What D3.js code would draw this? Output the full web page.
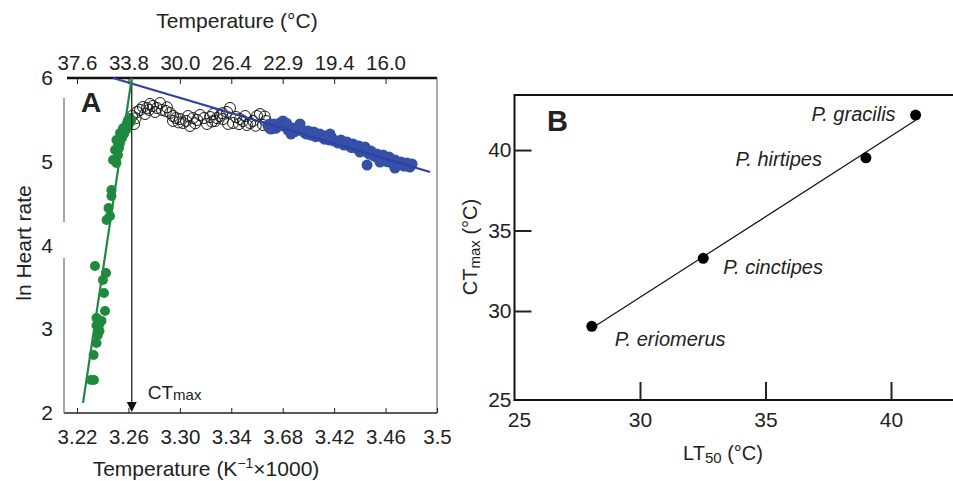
<!DOCTYPE html>
<html>
<head>
<meta charset="utf-8">
<script src="https://cdnjs.cloudflare.com/ajax/libs/d3/7.8.5/d3.min.js"></script>
<style>
  body { margin: 0; background: #fff; }
  svg { display: block; font-family: 'Liberation Sans', Arial, sans-serif; }
</style>
</head>
<body>
<div id="chart"></div>
<script>
// Panel A - ln heart rate against inverse temperature (K^-1 x 1000)
const bottomTicks = [3.22, 3.26, 3.30, 3.34, 3.38, 3.42, 3.46, 3.50];
const bottomTickLabels = ['3.22', '3.26', '3.30', '3.34', '3.68', '3.42', '3.46', '3.5'];
const topTickLabels = ['37.6', '33.8', '30.0', '26.4', '22.9', '19.4', '16.0'];
const heartTicks = [2, 3, 4, 5, 6];

// green = above CTmax, open = plateau, blue = below break point
const greenPoints = [
  [3.2309, 2.394], [3.2332, 2.394], [3.2329, 2.693], [3.2352, 2.836], [3.2363, 2.931],
  [3.2352, 3.045], [3.2371, 3.051], [3.2352, 3.134], [3.2418, 3.218], [3.2410, 3.433],
  [3.2402, 3.588], [3.2426, 3.672], [3.2340, 3.755], [3.2430, 4.304], [3.2457, 4.352],
  [3.2445, 4.448], [3.2468, 4.591], [3.2468, 4.663], [3.2507, 4.985], [3.2480, 5.021],
  [3.2496, 5.140], [3.2507, 5.260], [3.2535, 5.224], [3.2535, 5.343], [3.2574, 5.415],
  [3.2597, 5.499], [3.2519, 5.081], [3.2550, 5.284], [3.2581, 5.379], [3.2612, 5.522],
  [3.2589, 5.463], [3.2566, 5.331], [3.2527, 5.164], [3.2558, 5.400], [3.2600, 5.440],
  [3.2620, 5.480], [3.2545, 5.300], [3.2520, 5.200], [3.2390, 3.100], [3.2375, 2.980]
];

const openPoints = [
  [3.2628, 5.546], [3.2644, 5.451], [3.2667, 5.594], [3.2690, 5.618], [3.2713, 5.654],
  [3.2745, 5.642], [3.2768, 5.690], [3.2791, 5.666], [3.2822, 5.642], [3.2846, 5.701],
  [3.2861, 5.618], [3.2892, 5.606], [3.2924, 5.582], [3.2947, 5.546], [3.2970, 5.522],
  [3.3001, 5.510], [3.3025, 5.463], [3.3048, 5.487], [3.3079, 5.427], [3.3102, 5.522],
  [3.3134, 5.499], [3.3157, 5.558], [3.3188, 5.522], [3.3211, 5.451], [3.3235, 5.534],
  [3.3258, 5.570], [3.3289, 5.522], [3.3312, 5.546], [3.3336, 5.510], [3.3367, 5.594],
  [3.3390, 5.642], [3.3414, 5.463], [3.3437, 5.534], [3.3468, 5.510], [3.3491, 5.487],
  [3.3522, 5.439], [3.3546, 5.463], [3.3569, 5.487], [3.3600, 5.546], [3.3623, 5.570],
  [3.3647, 5.439], [3.3670, 5.487], [3.3701, 5.403], [3.2947, 5.487], [3.2807, 5.594],
  [3.2729, 5.570], [3.3064, 5.546], [3.3274, 5.487], [3.3507, 5.546], [3.3375, 5.451],
  [3.2656, 5.520], [3.2760, 5.620], [3.2900, 5.650], [3.2990, 5.470], [3.3120, 5.460],
  [3.3250, 5.480], [3.3330, 5.580], [3.3460, 5.450], [3.3590, 5.430], [3.3660, 5.540]
];

const bluePoints = [
  [3.3686, 5.427], [3.3709, 5.391], [3.3732, 5.451], [3.3756, 5.415], [3.3779, 5.463],
  [3.3802, 5.487], [3.3818, 5.427], [3.3841, 5.379], [3.3865, 5.331], [3.3880, 5.403],
  [3.3903, 5.367], [3.3927, 5.415], [3.3950, 5.379], [3.3973, 5.343], [3.3997, 5.367],
  [3.4020, 5.319], [3.4043, 5.355], [3.4067, 5.307], [3.4090, 5.331], [3.4113, 5.284],
  [3.4137, 5.307], [3.4160, 5.260], [3.4183, 5.284], [3.4207, 5.248], [3.4230, 5.224],
  [3.4253, 5.260], [3.4277, 5.200], [3.4300, 5.236], [3.4323, 5.188], [3.4347, 5.212],
  [3.4370, 5.164], [3.4393, 5.188], [3.4417, 5.140], [3.4440, 5.176], [3.4456, 4.961],
  [3.4463, 5.104], [3.4487, 5.128], [3.4510, 5.069], [3.4533, 5.093], [3.4557, 5.045],
  [3.4580, 5.081], [3.4603, 5.021], [3.4627, 5.057], [3.4650, 4.985], [3.4673, 5.021],
  [3.4697, 4.961], [3.4720, 4.997], [3.4743, 4.949], [3.4767, 4.985], [3.4790, 4.937],
  [3.4806, 4.973], [3.4673, 4.925], [3.4557, 4.997], [3.4401, 5.116], [3.4168, 5.331],
  [3.3935, 5.451], [3.3698, 5.450], [3.3744, 5.400], [3.3790, 5.430], [3.3830, 5.460],
  [3.3853, 5.400], [3.3892, 5.360], [3.3915, 5.390], [3.3962, 5.360], [3.3985, 5.330],
  [3.4032, 5.340], [3.4055, 5.300], [3.4102, 5.310], [3.4125, 5.270], [3.4172, 5.290],
  [3.4195, 5.250], [3.4242, 5.240], [3.4265, 5.220], [3.4312, 5.200], [3.4335, 5.170],
  [3.4382, 5.170], [3.4405, 5.150], [3.4452, 5.140], [3.4475, 5.090], [3.4522, 5.060],
  [3.4545, 5.070], [3.4592, 5.040], [3.4615, 5.000], [3.4662, 5.000], [3.4685, 4.980],
  [3.4732, 4.970], [3.4755, 4.950], [3.4780, 4.960]
];

const greenFit = [[3.2247, 2.12], [3.2626, 6.0]];
const blueFit = [[3.2480, 6.0], [3.4946, 4.878]];
const ctmaxA = 3.2626;

// Panel B - CTmax against LT50 per species
const species = ['P. eriomerus', 'P. cinctipes', 'P. hirtipes', 'P. gracilis'];
const lt50 = [28.08, 32.52, 39.0, 40.98];
const ctmax = [29.05, 33.27, 39.52, 42.17];
const ltTicks = [30, 35, 40];
const ctTicks = [30, 35, 40];

(function() {
  'use strict';

  const width = 953;
  const height = 481;

  const svg = d3.select('#chart')
    .append('svg')
    .attr('width', width)
    .attr('height', height)
    .style('background', '#fff');

  // ---------- panel A ----------
  const xA = d3.scaleLinear().domain([3.2099, 3.50]).range([64, 437]);
  const yA = d3.scaleLinear().domain([2, 6]).range([413, 78]);

  const gA = svg.append('g').attr('class', 'panel-a');

  // frame
  gA.append('line')
    .attr('x1', 67).attr('x2', xA(3.5))
    .attr('y1', yA(6)).attr('y2', yA(6))
    .attr('stroke', '#111').attr('stroke-width', 2.5);
  gA.append('line')
    .attr('x1', xA(3.5)).attr('x2', xA(3.5))
    .attr('y1', yA(6)).attr('y2', yA(2))
    .attr('stroke', '#555').attr('stroke-width', 1);
  gA.append('line')
    .attr('x1', xA.range()[0]).attr('x2', xA(3.5))
    .attr('y1', yA(2)).attr('y2', yA(2))
    .attr('stroke', '#222').attr('stroke-width', 1.5);

  // left axis is drawn in grey with a break around the "4"
  [[5.76, 4.28], [3.85, 2]].forEach(function(seg) {
    gA.append('line')
      .attr('x1', xA.range()[0]).attr('x2', xA.range()[0])
      .attr('y1', yA(seg[0])).attr('y2', yA(seg[1]))
      .attr('stroke', '#888').attr('stroke-width', 1.5);
  });

  const bottomAxis = d3.axisBottom(xA)
    .tickValues(bottomTicks)
    .tickFormat(function(d, i) { return bottomTickLabels[i]; })
    .tickSizeInner(-5)
    .tickSizeOuter(0)
    .tickPadding(16);

  const topAxis = d3.axisTop(xA)
    .tickValues(bottomTicks.slice(0, 7))
    .tickFormat(function(d, i) { return topTickLabels[i]; })
    .tickSizeInner(-6)
    .tickSizeOuter(0)
    .tickPadding(8);

  const leftAxis = d3.axisLeft(yA)
    .tickValues(heartTicks)
    .tickFormat(d3.format('d'))
    .tickSize(0)
    .tickPadding(11);

  function styleAxis(g, size) {
    g.attr('font-family', null).attr('font-size', size);
    g.select('.domain').remove();
    g.selectAll('.tick line').attr('stroke', '#222');
    g.selectAll('.tick text').attr('fill', '#222');
  }

  gA.append('g')
    .attr('transform', 'translate(0,' + yA(2) + ')')
    .call(bottomAxis)
    .call(styleAxis, 20.5);

  gA.append('g')
    .attr('transform', 'translate(0,' + yA(6) + ')')
    .call(topAxis)
    .call(styleAxis, 20.5);

  gA.append('g')
    .attr('transform', 'translate(' + xA.range()[0] + ',0)')
    .call(leftAxis)
    .call(styleAxis, 21);

  // small tick at 6 on the top-left corner
  gA.append('line')
    .attr('x1', 68).attr('x2', 75)
    .attr('y1', yA(6)).attr('y2', yA(6))
    .attr('stroke', '#111').attr('stroke-width', 1.5);

  // data
  gA.append('g')
    .selectAll('circle')
    .data(openPoints)
    .enter()
    .append('circle')
    .attr('cx', function(d) { return xA(d[0]); })
    .attr('cy', function(d) { return yA(d[1]); })
    .attr('r', 5.5)
    .attr('fill', 'none')
    .attr('stroke', '#1a1a1a')
    .attr('stroke-width', 1);

  gA.append('g')
    .selectAll('circle')
    .data(bluePoints)
    .enter()
    .append('circle')
    .attr('cx', function(d) { return xA(d[0]); })
    .attr('cy', function(d) { return yA(d[1]); })
    .attr('r', 5.5)
    .attr('fill', '#3450a8');

  gA.append('g')
    .selectAll('circle')
    .data(greenPoints)
    .enter()
    .append('circle')
    .attr('cx', function(d) { return xA(d[0]); })
    .attr('cy', function(d) { return yA(d[1]); })
    .attr('r', 5)
    .attr('fill', '#1f8a3d');

  // CTmax arrow
  gA.append('line')
    .attr('x1', xA(ctmaxA)).attr('x2', xA(ctmaxA))
    .attr('y1', yA(6)).attr('y2', yA(2) - 8)
    .attr('stroke', '#111').attr('stroke-width', 1.2);
  gA.append('path')
    .attr('d', 'M' + (xA(ctmaxA) - 5) + ',' + (yA(2) - 11) +
      'L' + (xA(ctmaxA) + 5) + ',' + (yA(2) - 11) +
      'L' + xA(ctmaxA) + ',' + (yA(2) - 1) + 'Z')
    .attr('fill', '#111');

  const fitLine = d3.line()
    .x(function(d) { return xA(d[0]); })
    .y(function(d) { return yA(d[1]); });

  gA.append('path')
    .datum(blueFit)
    .attr('d', fitLine)
    .attr('fill', 'none')
    .attr('stroke', '#2f42a3')
    .attr('stroke-width', 2.2);

  gA.append('path')
    .datum(greenFit)
    .attr('d', fitLine)
    .attr('fill', 'none')
    .attr('stroke', '#1f8a3d')
    .attr('stroke-width', 2.2);

  // labels
  const ctLabel = gA.append('text')
    .attr('x', xA(ctmaxA) + 16)
    .attr('y', 399)
    .attr('font-size', 19)
    .attr('fill', '#222');
  ctLabel.append('tspan').text('CT');
  ctLabel.append('tspan').attr('font-size', 15).attr('dy', 1).text('max');

  gA.append('text')
    .attr('x', 81).attr('y', 112)
    .attr('font-size', 28)
    .attr('font-weight', 'bold')
    .attr('fill', '#222')
    .text('A');

  gA.append('text')
    .attr('x', 237).attr('y', 28)
    .attr('text-anchor', 'middle')
    .attr('font-size', 21)
    .attr('fill', '#222')
    .text('Temperature (°C)');

  gA.append('text')
    .attr('transform', 'translate(31,243) rotate(-90)')
    .attr('text-anchor', 'middle')
    .attr('font-size', 21)
    .attr('fill', '#222')
    .text('ln Heart rate');

  const xTitleA = gA.append('text')
    .attr('x', 206).attr('y', 476)
    .attr('text-anchor', 'middle')
    .attr('font-size', 21)
    .attr('fill', '#222');
  xTitleA.append('tspan').text('Temperature (K');
  xTitleA.append('tspan').attr('font-size', 14).attr('dy', -8).text('−1');
  xTitleA.append('tspan').attr('dy', 8).text('×1000)');

  // ---------- panel B ----------
  const xB = d3.scaleLinear().domain([25, 42.47]).range([514.5, 953]);
  const yB = d3.scaleLinear().domain([24.47, 43.42]).range([400, 95]);

  const gB = svg.append('g').attr('class', 'panel-b');

  gB.append('path')
    .attr('d', 'M' + width + ',' + yB.range()[1] +
      'H' + xB.range()[0] + 'V' + yB.range()[0] + 'H' + width)
    .attr('fill', 'none')
    .attr('stroke', '#111')
    .attr('stroke-width', 2);

  gB.append('g')
    .attr('transform', 'translate(0,' + yB.range()[0] + ')')
    .call(d3.axisBottom(xB)
      .tickValues(ltTicks)
      .tickFormat(d3.format('d'))
      .tickSizeInner(-18)
      .tickSizeOuter(0)
      .tickPadding(12))
    .call(styleAxis, 21)
    .selectAll('.tick line').attr('stroke-width', 2);

  gB.append('g')
    .attr('transform', 'translate(' + xB.range()[0] + ',0)')
    .call(d3.axisLeft(yB)
      .tickValues(ctTicks)
      .tickFormat(d3.format('d'))
      .tickSizeInner(-17)
      .tickSizeOuter(0)
      .tickPadding(3))
    .call(styleAxis, 21)
    .selectAll('.tick line').attr('stroke-width', 2);

  // "25" corner labels
  gB.append('text')
    .attr('x', xB.range()[0] - 3).attr('y', yB.range()[0])
    .attr('dy', '0.32em')
    .attr('text-anchor', 'end')
    .attr('font-size', 21)
    .attr('fill', '#222')
    .text('25');
  gB.append('text')
    .attr('x', xB(25) + 5).attr('y', yB.range()[0] + 27)
    .attr('text-anchor', 'middle')
    .attr('font-size', 21)
    .attr('fill', '#222')
    .text('25');

  // regression line through the species
  const pts = species.map(function(s, i) { return [lt50[i], ctmax[i]]; });
  const mx = d3.mean(lt50);
  const my = d3.mean(ctmax);
  const slope = d3.sum(pts, function(p) { return (p[0] - mx) * (p[1] - my); }) /
    d3.sum(pts, function(p) { return (p[0] - mx) * (p[0] - mx); });
  const icpt = my - slope * mx;
  const xr = d3.extent(lt50);

  gB.append('line')
    .attr('x1', xB(xr[0])).attr('y1', yB(icpt + slope * xr[0]))
    .attr('x2', xB(xr[1])).attr('y2', yB(icpt + slope * xr[1]))
    .attr('stroke', '#111')
    .attr('stroke-width', 1.2);

  gB.append('g')
    .selectAll('circle')
    .data(pts)
    .enter()
    .append('circle')
    .attr('cx', function(d) { return xB(d[0]); })
    .attr('cy', function(d) { return yB(d[1]); })
    .attr('r', 5.5)
    .attr('fill', '#000');

  // label offsets [dx, dy, anchor]
  const labelOffsets = [[23, 20, 'start'], [20, 16, 'start'], [-44, 8, 'end'], [-20, 6, 'end']];
  gB.append('g')
    .selectAll('text')
    .data(pts)
    .enter()
    .append('text')
    .attr('x', function(d, i) { return xB(d[0]) + labelOffsets[i][0]; })
    .attr('y', function(d, i) { return yB(d[1]) + labelOffsets[i][1]; })
    .attr('text-anchor', function(d, i) { return labelOffsets[i][2]; })
    .attr('font-size', 20)
    .attr('font-style', 'italic')
    .attr('fill', '#222')
    .text(function(d, i) { return species[i]; });

  gB.append('text')
    .attr('x', 547).attr('y', 131)
    .attr('font-size', 29)
    .attr('font-weight', 'bold')
    .attr('fill', '#222')
    .text('B');

  const xTitleB = gB.append('text')
    .attr('x', 723).attr('y', 460)
    .attr('text-anchor', 'middle')
    .attr('font-size', 20)
    .attr('fill', '#222');
  xTitleB.append('tspan').text('LT');
  xTitleB.append('tspan').attr('font-size', 15).attr('dy', 3).text('50');
  xTitleB.append('tspan').attr('dy', -3).text(' (°C)');

  const yTitleB = gB.append('text')
    .attr('transform', 'translate(477,247) rotate(-90)')
    .attr('text-anchor', 'middle')
    .attr('font-size', 20)
    .attr('fill', '#222');
  yTitleB.append('tspan').text('CT');
  yTitleB.append('tspan').attr('font-size', 15).attr('dy', 3).text('max');
  yTitleB.append('tspan').attr('dy', -3).text(' (°C)');
})();
</script>
</body>
</html>
